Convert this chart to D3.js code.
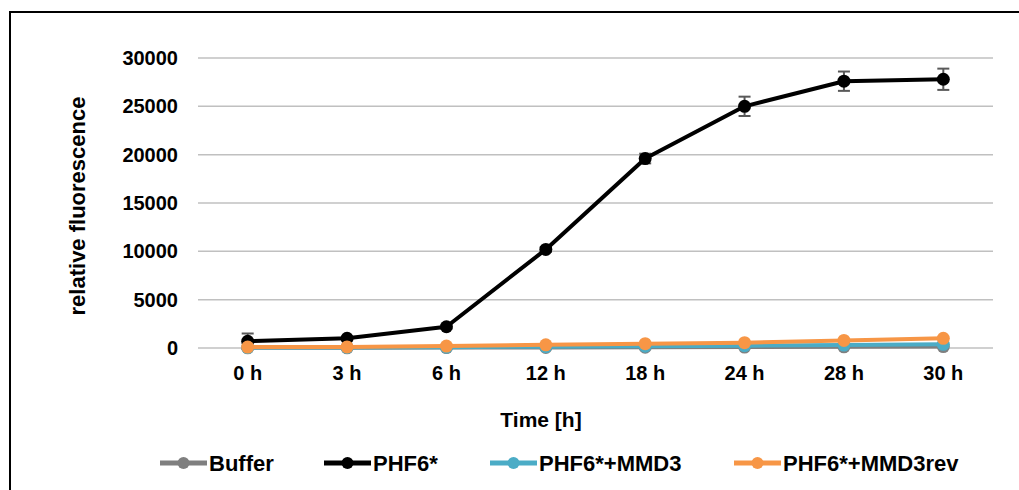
<!DOCTYPE html>
<html>
<head>
<meta charset="utf-8">
<script src="https://cdn.jsdelivr.net/npm/d3@7"></script>
<style>
  body { margin: 0; background: #fff; }
  svg { display: block; font-family: "Liberation Sans", Arial, sans-serif; }
</style>
</head>
<body>
<div id="chart"></div>
<script>
const categories = ['0 h', '3 h', '6 h', '12 h', '18 h', '24 h', '28 h', '30 h']
const yTicks = [0, 5000, 10000, 15000, 20000, 25000, 30000]

const buffer = [20, 20, 40, 60, 80, 100, 120, 150]
const phf6 = [700, 1000, 2200, 10200, 19600, 25000, 27600, 27800]
const phf6Err = [800, 150, 200, 250, 500, 1000, 1000, 1100]
const mmd3 = [40, 50, 90, 140, 190, 240, 300, 380]
const mmd3rev = [100, 110, 200, 330, 450, 550, 780, 1000]

const series = [
  { name: 'Buffer', values: buffer, color: '#7f7f7f' },
  { name: 'PHF6*', values: phf6, color: '#000000', err: phf6Err },
  { name: 'PHF6*+MMD3', values: mmd3, color: '#4bacc6' },
  { name: 'PHF6*+MMD3rev', values: mmd3rev, color: '#f79646' },
]

const width = 1019
const height = 490

const svg = d3.select('#chart')
  .append('svg')
  .attr('width', width)
  .attr('height', height)

// outer frame (cut off at right and bottom like the source)
svg.append('rect')
  .attr('x', 10).attr('y', 12)
  .attr('width', 1030).attr('height', 500)
  .attr('fill', 'none')
  .attr('stroke', '#000')
  .attr('stroke-width', 2)

const x = d3.scaleBand().domain(categories).range([198, 993])
const y = d3.scaleLinear().domain([0, 30000]).range([348, 58])

// gridlines
svg.append('g')
  .selectAll('line')
  .data(yTicks)
  .join('line')
  .attr('x1', 198).attr('x2', 993)
  .attr('y1', d => y(d)).attr('y2', d => y(d))
  .attr('stroke', '#c0c0c0')
  .attr('stroke-width', 1.5)

// y axis labels
const yAxis = d3.axisLeft(y).tickValues(yTicks).tickFormat(d3.format('d')).tickSize(0).tickPadding(0)
svg.append('g')
  .attr('transform', 'translate(178,0)')
  .call(yAxis)
  .call(g => g.select('.domain').remove())
  .call(g => g.selectAll('text')
    .attr('font-size', 20)
    .attr('font-weight', 'bold')
    .attr('fill', '#000')
    .attr('font-family', '"Liberation Sans", Arial, sans-serif'))

// x axis labels
const xAxis = d3.axisBottom(x).tickSize(0).tickPadding(0)
svg.append('g')
  .attr('transform', 'translate(0,366)')
  .call(xAxis)
  .call(g => g.select('.domain').remove())
  .call(g => g.selectAll('text')
    .attr('font-size', 20)
    .attr('font-weight', 'bold')
    .attr('fill', '#000')
    .attr('font-family', '"Liberation Sans", Arial, sans-serif'))

// axis titles
svg.append('text')
  .attr('x', 541).attr('y', 427)
  .attr('text-anchor', 'middle')
  .attr('font-size', 21)
  .attr('font-weight', 'bold')
  .text('Time [h]')

svg.append('text')
  .attr('transform', 'translate(85,206) rotate(-90)')
  .attr('text-anchor', 'middle')
  .attr('font-size', 22)
  .attr('font-weight', 'bold')
  .text('relative fluorescence')

const cx = d => x(d) + x.bandwidth() / 2
const line = d3.line()
  .x((d, i) => cx(categories[i]))
  .y(d => y(d))

series.forEach(s => {
  const g = svg.append('g')
  if (s.err) {
    const eb = g.selectAll('.err')
      .data(s.values.map((v, i) => ({ v, e: s.err[i], c: categories[i] })))
      .join('g')
      .attr('stroke', '#595959')
      .attr('stroke-width', 2)
    eb.append('line')
      .attr('x1', d => cx(d.c)).attr('x2', d => cx(d.c))
      .attr('y1', d => y(d.v - d.e)).attr('y2', d => y(d.v + d.e))
    eb.append('line')
      .attr('x1', d => cx(d.c) - 6).attr('x2', d => cx(d.c) + 6)
      .attr('y1', d => y(d.v + d.e)).attr('y2', d => y(d.v + d.e))
    eb.append('line')
      .attr('x1', d => cx(d.c) - 6).attr('x2', d => cx(d.c) + 6)
      .attr('y1', d => y(d.v - d.e)).attr('y2', d => y(d.v - d.e))
  }
  g.append('path')
    .datum(s.values)
    .attr('d', line)
    .attr('fill', 'none')
    .attr('stroke', s.color)
    .attr('stroke-width', 4)
    .attr('stroke-linejoin', 'round')
  g.selectAll('circle')
    .data(s.values)
    .join('circle')
    .attr('cx', (d, i) => cx(categories[i]))
    .attr('cy', d => y(d))
    .attr('r', 6.5)
    .attr('fill', s.color)
})

// legend
const legendX = [160, 324, 490, 734]
const legend = svg.append('g')
  .selectAll('g')
  .data(series)
  .join('g')
  .attr('transform', (d, i) => `translate(${legendX[i]},463)`)
legend.append('line')
  .attr('x1', 0).attr('x2', 47)
  .attr('stroke', d => d.color)
  .attr('stroke-width', 5)
legend.append('circle')
  .attr('cx', 23.5).attr('r', 6)
  .attr('fill', d => d.color)
legend.append('text')
  .attr('x', 49).attr('y', 8)
  .attr('font-size', 22)
  .attr('font-weight', 'bold')
  .text(d => d.name)
</script>
</body>
</html>
